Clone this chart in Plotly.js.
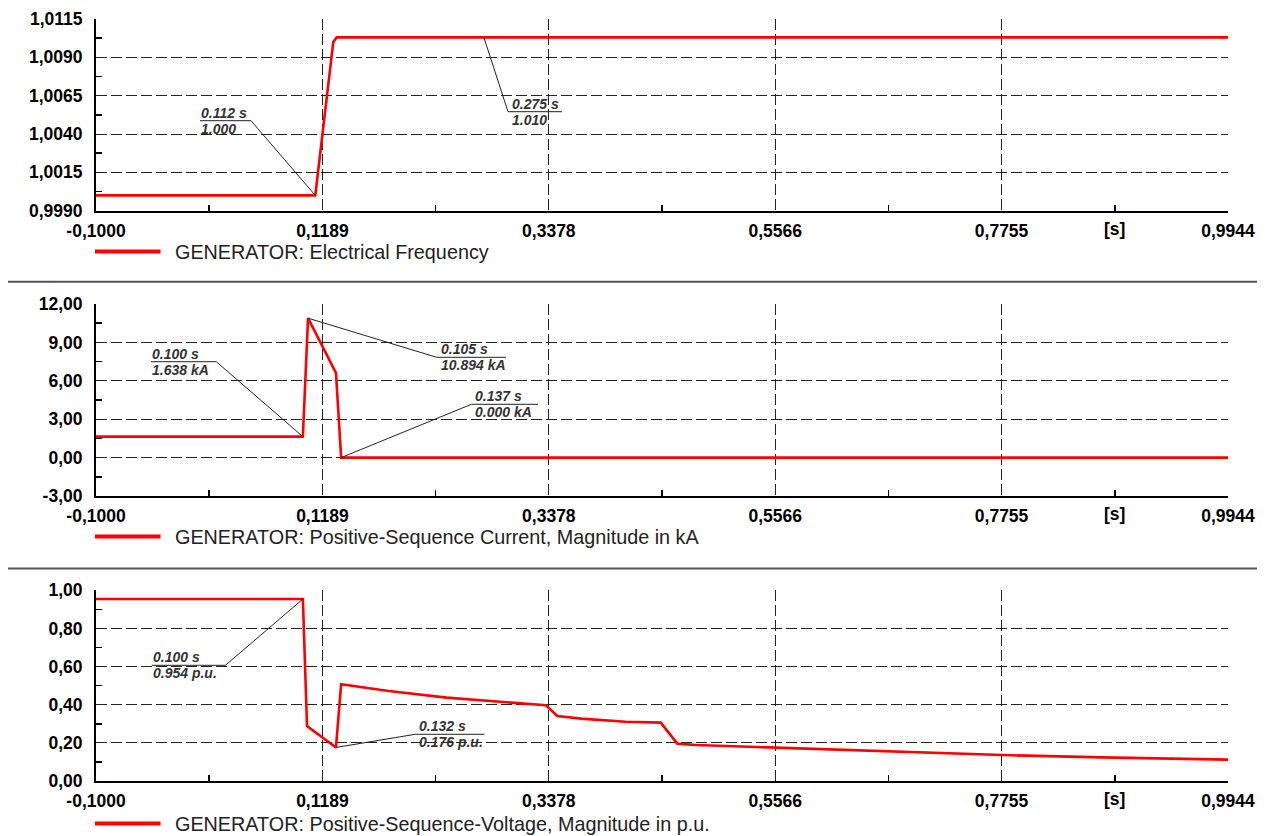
<!DOCTYPE html>
<html>
<head>
<meta charset="utf-8">
<script src="https://cdn.plot.ly/plotly-3.0.1.min.js"></script>
<style>html,body{margin:0;padding:0;background:#fff}#chart{width:1268px;height:836px}</style>
</head>
<body>
<div id="chart"></div>
<script>
// ---------------- DATA ----------------
const xTickVals = [-0.1000, 0.1189, 0.3378, 0.5566, 0.7755, 0.9944];
const xUnitLabel = '[s]';

const freqName = 'GENERATOR: Electrical Frequency';
const freqT = [-0.100, 0.112, 0.1294, 0.1327, 0.9944];
const freqV = [1.0000, 1.0000, 1.0100, 1.0103, 1.0103];
const freqTicks = [0.9990, 1.0015, 1.0040, 1.0065, 1.0090, 1.0115];
const freqMarkT = [0.112, 0.275];
const freqMarkV = [1.000, 1.0103];
const freqMarkTop = ['0.112 s', '0.275 s'];
const freqMarkBottom = ['1.000', '1.010'];

const curName = 'GENERATOR: Positive-Sequence Current, Magnitude in kA';
const curT = [-0.100, 0.100, 0.105, 0.132, 0.137, 0.9944];
const curV = [1.638, 1.638, 10.894, 6.62, 0.000, 0.000];
const curTicks = [-3, 0, 3, 6, 9, 12];
const curMarkT = [0.100, 0.105, 0.137];
const curMarkV = [1.638, 10.894, 0.000];
const curMarkTop = ['0.100 s', '0.105 s', '0.137 s'];
const curMarkBottom = ['1.638 kA', '10.894 kA', '0.000 kA'];

const voltName = 'GENERATOR: Positive-Sequence-Voltage, Magnitude in p.u.';
const voltT = [-0.100, 0.100, 0.104, 0.132, 0.137, 0.152, 0.183, 0.239, 0.282, 0.335, 0.346, 0.369, 0.412, 0.446, 0.462, 0.480, 0.557, 0.654, 0.776, 0.872, 0.9944];
const voltV = [0.954, 0.954, 0.288, 0.176, 0.507, 0.495, 0.472, 0.437, 0.420, 0.397, 0.341, 0.327, 0.311, 0.306, 0.196, 0.189, 0.175, 0.157, 0.136, 0.124, 0.112];
const voltTicks = [0.0, 0.2, 0.4, 0.6, 0.8, 1.0];
const voltMarkT = [0.100, 0.132];
const voltMarkV = [0.954, 0.176];
const voltMarkTop = ['0.100 s', '0.132 s'];
const voltMarkBottom = ['0.954 p.u.', '0.176 p.u.'];

// ---------------- LAYOUT CONFIG ----------------
const W = 1268, H = 836;
const plotL = 96, plotR = 1228;
const panels = [
  {top: 19, bottom: 210.7, dec: 4, ticks: freqTicks, name: freqName, legendY: 251.5, t: freqT, v: freqV,
   mt: freqMarkT, mv: freqMarkV, mtop: freqMarkTop, mbot: freqMarkBottom,
   elbows: [[251, 120.7, 200], [508, 111.7, 562]]},
  {top: 304, bottom: 496, dec: 2, ticks: curTicks, name: curName, legendY: 536.5, t: curT, v: curV,
   mt: curMarkT, mv: curMarkV, mtop: curMarkTop, mbot: curMarkBottom,
   elbows: [[216.3, 361.7, 151], [436.7, 357.3, 506], [471.4, 404.3, 538]]},
  {top: 590.3, bottom: 781, dec: 2, ticks: voltTicks, name: voltName, legendY: 823.5, t: voltT, v: voltV,
   mt: voltMarkT, mv: voltMarkV, mtop: voltMarkTop, mbot: voltMarkBottom,
   elbows: [[225.4, 665.3, 151.8], [415.2, 734.3, 484.4]]}
];
const separators = [281.8, 568.6];

const fmt = (v, d) => v.toFixed(d).replace('.', ',');
const mids = a => a.slice(1).map((v, i) => (v + a[i]) / 2);
const xRange = [xTickVals[0], xTickVals[xTickVals.length - 1]];
const pxX = px => (px - plotL) / (plotR - plotL);
const tickFont = {family: 'Liberation Sans, Arial, sans-serif', size: 17.5, color: '#000', weight: 'bold'};
const markFont = {family: 'Liberation Sans, Arial, sans-serif', size: 14, color: '#333', weight: 'bold', style: 'italic'};
const red = '#ff0000';
const gridDash = '11px,4px';
const gridColor = '#222';

const data = [];
const layout = {
  width: W, height: H, margin: {l: 0, r: 0, t: 0, b: 0},
  paper_bgcolor: '#fff', plot_bgcolor: '#fff', showlegend: false,
  shapes: [], annotations: []
};

panels.forEach((p, i) => {
  const n = i === 0 ? '' : String(i + 1);
  const xa = 'xaxis' + n, ya = 'yaxis' + n;
  const xr = 'x' + n, yr = 'y' + n;
  const yRange = [p.ticks[0], p.ticks[p.ticks.length - 1]];
  const pyToData = py => yRange[0] + (p.bottom - py) / (p.bottom - p.top) * (yRange[1] - yRange[0]);
  const pxToData = px => xRange[0] + pxX(px) * (xRange[1] - xRange[0]);

  data.push({x: p.t, y: p.v, type: 'scatter', mode: 'lines', xaxis: xr, yaxis: yr,
    line: {color: red, width: 2.6}, name: p.name, hoverinfo: 'skip', cliponaxis: false});

  layout[xa] = {
    domain: [plotL / W, plotR / W], range: xRange, anchor: yr,
    tickmode: 'array', tickvals: xTickVals, ticktext: xTickVals.map(v => fmt(v, 4)),
    ticks: '', ticklabelstandoff: 3, showline: true, linecolor: '#000', linewidth: 2,
    showgrid: true, gridcolor: gridColor, gridwidth: 1, griddash: gridDash, zeroline: false,
    tickfont: tickFont, fixedrange: true, automargin: false, tickangle: 0, ticklabeloverflow: 'allow',
    minor: {tickvals: mids(xTickVals), ticks: 'inside', ticklen: 6, tickwidth: 1.5, tickcolor: '#000', showgrid: false}
  };
  layout[ya] = {
    domain: [1 - p.bottom / H, 1 - p.top / H], range: yRange, anchor: xr,
    tickmode: 'array', tickvals: p.ticks, ticktext: p.ticks.map(v => fmt(v, p.dec)),
    ticks: '', ticklabelstandoff: 8, showline: true, linecolor: '#000', linewidth: 2,
    showgrid: true, gridcolor: gridColor, gridwidth: 1, griddash: gridDash, zeroline: false,
    tickfont: tickFont, fixedrange: true, automargin: false, ticklabeloverflow: 'allow',
    minor: {tickvals: mids(p.ticks), ticks: 'inside', ticklen: 6, tickwidth: 1.5, tickcolor: '#000', showgrid: false}
  };

  layout.annotations.push({
    xref: xr, yref: 'paper', x: mids(xTickVals)[xTickVals.length - 2], y: 1 - (p.bottom + 6) / H,
    text: xUnitLabel, showarrow: false, xanchor: 'center', yanchor: 'top', font: tickFont
  });

  layout.shapes.push({type: 'line', xref: 'paper', yref: 'paper', x0: 95 / W, x1: 160.5 / W,
    y0: 1 - p.legendY / H, y1: 1 - p.legendY / H, line: {color: red, width: 4}});
  layout.annotations.push({xref: 'paper', yref: 'paper', x: 173 / W, y: 1 - p.legendY / H,
    text: p.name, showarrow: false, xanchor: 'left', yanchor: 'middle',
    font: {family: 'Liberation Sans, Arial, sans-serif', size: 19.8, color: '#222'}});

  p.mt.forEach((t, k) => {
    const [ex, ey, ux] = p.elbows[k];
    const exd = pxToData(ex), eyd = pyToData(ey), uxd = pxToData(ux);
    layout.shapes.push({type: 'line', xref: xr, yref: yr, x0: t, y0: p.mv[k], x1: exd, y1: eyd,
      line: {color: '#222', width: 1}});
    layout.shapes.push({type: 'line', xref: xr, yref: yr, x0: exd, y0: eyd, x1: uxd, y1: eyd,
      line: {color: '#222', width: 1}});
    const left = Math.min(exd, uxd) + (ux > ex ? pxToData(plotL + 3) - xRange[0] : 0);
    layout.annotations.push({xref: xr, yref: yr, x: left, y: eyd, text: p.mtop[k],
      showarrow: false, xanchor: 'left', yanchor: 'bottom', font: markFont, borderpad: 0, yshift: -1});
    layout.annotations.push({xref: xr, yref: yr, x: left, y: eyd, text: p.mbot[k],
      showarrow: false, xanchor: 'left', yanchor: 'top', font: markFont, borderpad: 0, yshift: 1});
  });
});

separators.forEach(s => layout.shapes.push({type: 'line', xref: 'paper', yref: 'paper',
  x0: 8 / W, x1: 1257 / W, y0: 1 - s / H, y1: 1 - s / H, line: {color: '#555', width: 2}}));

Plotly.newPlot('chart', data, layout, {staticPlot: true, displayModeBar: false});
</script>
</body>
</html>
